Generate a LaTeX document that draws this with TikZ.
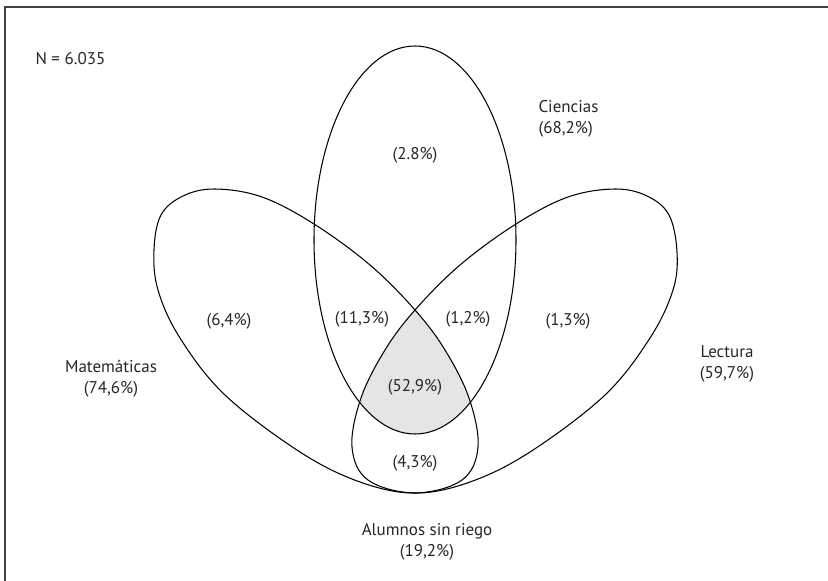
\documentclass[tikz,border=0pt]{standalone}
\usepackage{fontspec}
\setmainfont{PT Sans}

% outlines of the three sets (pixel units, y down)
\newcommand\cienshape{(415,240) ellipse [x radius=101,y radius=194]}
\newcommand\matshape{plot[smooth cycle,tension=0.6] coordinates {
  (415,310) (445,350) (469,398) (478,447) (462,480) (415,493)
  (360,482) (300,452) (225,395) (180,338) (158,290) (154,250)
  (161,215) (183,196) (215,189) (262,197) (314,224) (370,265)}}
\newcommand\lecshape{plot[smooth cycle,tension=0.6] coordinates {
  (415,310) (385,350) (361,398) (352,447) (368,480) (415,493)
  (470,482) (530,452) (605,395) (650,338) (673,290) (677,252)
  (669,215) (647,196) (615,189) (568,197) (516,224) (460,265)}}

\begin{document}
\begin{tikzpicture}[x=0.03cm,y=-0.03cm,line width=0.9pt,
  lbl/.style={font=\fontsize{14.5}{18}\selectfont,align=center,inner sep=0pt,text=black!85}]

\useasboundingbox (0,0) rectangle (828,581);

% frame
\path [draw,line width=1.6pt,black!75] (5,581) -- (5,7) -- (828,7);

% shaded core
\begin{scope}
  \clip \cienshape;
  \clip \matshape;
  \fill [gray!20] \lecshape;
\end{scope}

\path [draw] \cienshape;
\path [draw] \matshape;
\path [draw] \lecshape;

\node [lbl,anchor=west] (n) at (35,59) {N = 6.035};

\node [lbl,anchor=west,align=left] (cien) at (538,119) {Ciencias\\(68,2\%)};
\node [lbl] (mat) at (111,379) {Matemáticas\\(74,6\%)};
\node [lbl] (lec) at (727,364) {Lectura\\(59,7\%)};
\node [lbl] (sin) at (427,542) {Alumnos sin riego\\(19,2\%)};

\node [lbl] (c) at (415,155) {(2.8\%)};
\node [lbl] (m) at (229,321) {(6,4\%)};
\node [lbl] (cm) at (362,319) {(11,3\%)};
\node [lbl] (cl) at (468,319) {(1,2\%)};
\node [lbl] (l) at (568,321) {(1,3\%)};
\node [lbl] (cml) at (415,387) {(52,9\%)};
\node [lbl] (ml) at (415,463) {(4,3\%)};

\end{tikzpicture}
\end{document}
